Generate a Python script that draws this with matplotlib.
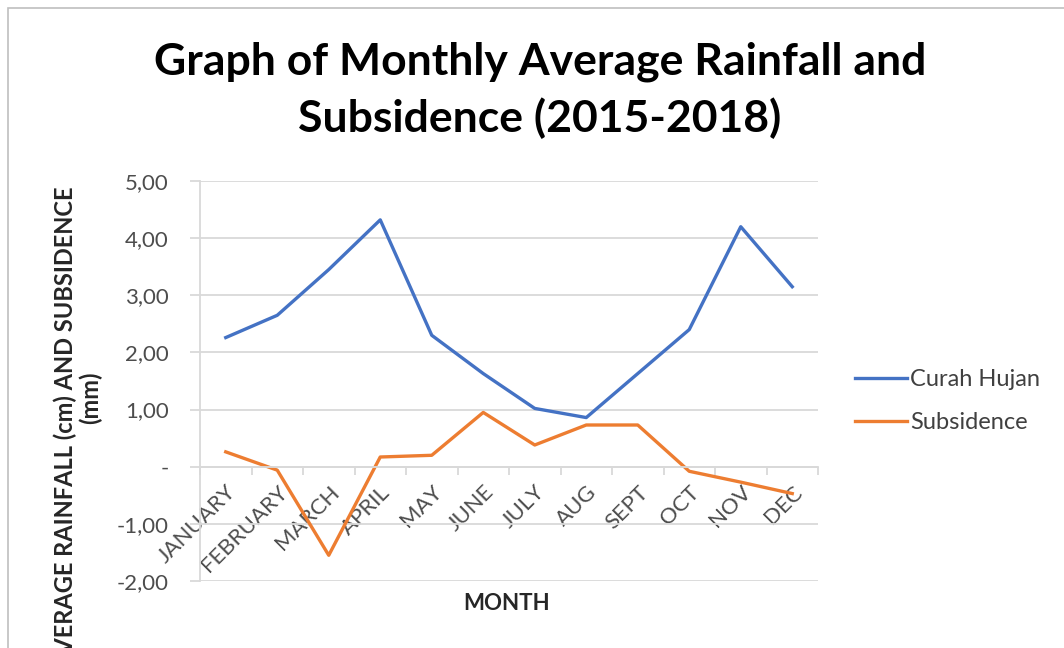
import matplotlib
matplotlib.use("Agg")
import matplotlib.pyplot as plt
from matplotlib.patches import Rectangle
from matplotlib.ticker import FuncFormatter, MultipleLocator, FixedLocator

months = ["JANUARY", "FEBRUARY", "MARCH", "APRIL", "MAY", "JUNE",
          "JULY", "AUG", "SEPT", "OCT", "NOV", "DEC"]
curah_hujan = [2.26, 2.65, 3.45, 4.32, 2.30, 1.63, 1.02, 0.86, 1.63, 2.40, 4.20, 3.15]
subsidence = [0.26, -0.06, -1.55, 0.17, 0.20, 0.95, 0.38, 0.73, 0.73, -0.08, -0.27, -0.47]

BLUE = "#4472C4"
ORANGE = "#ED7D31"
GRID = "#D9D9D9"
TXT = "#4D4D4D"
DARK = "#262626"
FONT = ["Lato", "DejaVu Sans"]

plt.rcParams["font.family"] = FONT

W, H = 1064, 648
fig = plt.figure(figsize=(W / 100, H / 100), dpi=100)


def fx(px):
    return px / W


def fy(py):
    return 1 - py / H


# chart-area border
fig.patches.append(Rectangle((fx(8), -0.1), 1.2, fy(8) + 0.1, transform=fig.transFigure,
                             fill=False, edgecolor="#BFBFBF", linewidth=1.2))

ax = fig.add_axes([fx(200), fy(581), 618 / W, 400 / H])

x = list(range(len(months)))
ax.plot(x, curah_hujan, color=BLUE, linewidth=2.4, label="Curah Hujan", solid_joinstyle="round")
ax.plot(x, subsidence, color=ORANGE, linewidth=2.4, label="Subsidence", solid_joinstyle="round")

ax.set_xlim(-0.5, len(months) - 0.5)
ax.set_ylim(-2, 5)
ax.yaxis.set_major_locator(MultipleLocator(1))


def yfmt(v, pos):
    if abs(v) < 1e-9:
        return "-"
    return f"{v:.2f}".replace(".", ",")


ax.yaxis.set_major_formatter(FuncFormatter(yfmt))
ax.grid(axis="y", color=GRID, linewidth=1.3)
ax.set_axisbelow(True)

for s in ("top", "right"):
    ax.spines[s].set_visible(False)
ax.spines["left"].set_color(GRID)
ax.spines["left"].set_linewidth(1.3)
ax.spines["bottom"].set_position(("data", 0))
ax.spines["bottom"].set_color(GRID)
ax.spines["bottom"].set_linewidth(1.3)

ax.tick_params(axis="y", length=7.5, width=1.3, color=GRID, labelsize=16,
               labelcolor=TXT, pad=15)
ax.xaxis.set_major_locator(FixedLocator(x))
ax.set_xticklabels(months, rotation=45, ha="right", rotation_mode="anchor")
ax.tick_params(axis="x", which="major", length=0, labelsize=16, labelcolor=TXT, pad=11)
ax.xaxis.set_minor_locator(FixedLocator([i + 0.5 for i in range(-1, len(months))]))
ax.tick_params(axis="x", which="minor", length=6, width=1.3, color=GRID, direction="out")

fig.text(fx(507), fy(604), "MONTH", ha="center", va="center",
         fontsize=16, fontweight="bold", color=DARK)
fig.text(fx(65), fy(187), "AVERAGE RAINFALL (cm) AND SUBSIDENCE",
         rotation=90, ha="center", va="top", fontsize=17, fontweight="bold", color=DARK)
fig.text(fx(90), fy(398), "(mm)",
         rotation=90, ha="center", va="center", fontsize=17, fontweight="bold", color=DARK)

fig.text(fx(540), fy(62), "Graph of Monthly Average Rainfall and",
         ha="center", va="center", fontsize=32, fontweight="bold", color="black")
fig.text(fx(540), fy(118), "Subsidence (2015-2018)",
         ha="center", va="center", fontsize=32, fontweight="bold", color="black")

ax.legend(loc="center left", bbox_to_anchor=(fx(855), fy(401)), bbox_transform=fig.transFigure,
          frameon=False, borderpad=0, borderaxespad=0, fontsize=17, labelcolor="#404040",
          handlelength=2.2, handletextpad=0.15, labelspacing=0.95)

fig.savefig("out.png", dpi=100)
